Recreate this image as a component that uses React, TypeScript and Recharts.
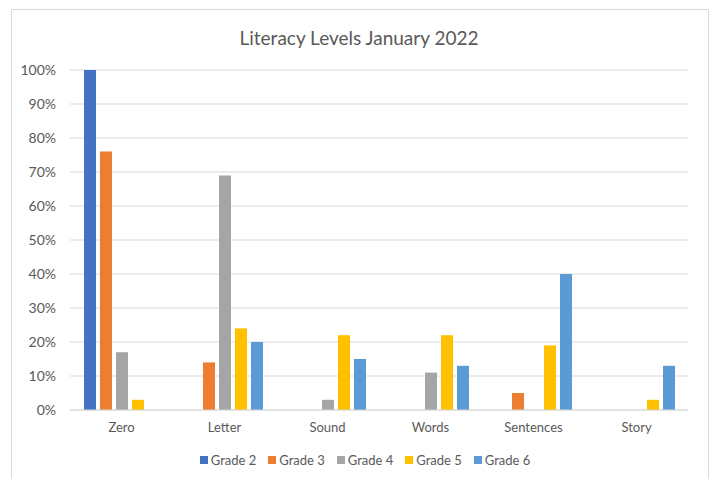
import React from "react";
import { BarChart, CartesianGrid, XAxis, YAxis, Bar } from "recharts";

const categories = ["Zero", "Letter", "Sound", "Words", "Sentences", "Story"];
const grade2 = [100, 0, 0, 0, 0, 0];
const grade3 = [76, 14, 0, 0, 5, 0];
const grade4 = [17, 69, 3, 11, 0, 0];
const grade5 = [3, 24, 22, 22, 19, 3];
const grade6 = [0, 20, 15, 13, 40, 13];
const yTicks = [0, 10, 20, 30, 40, 50, 60, 70, 80, 90, 100];

const SERIES = [
  { key: "Grade 2", values: grade2, color: "#4472C4" },
  { key: "Grade 3", values: grade3, color: "#ED7D31" },
  { key: "Grade 4", values: grade4, color: "#A5A5A5" },
  { key: "Grade 5", values: grade5, color: "#FFC000" },
  { key: "Grade 6", values: grade6, color: "#5B9BD5" },
];

const data = categories.map((name, i) => {
  const row: Record<string, string | number> = { name };
  SERIES.forEach((s) => (row[s.key] = s.values[i]));
  return row;
});

const FONT = "Lato, 'Open Sans', sans-serif";

const App: React.FC = () => {
  return (
    <div style={{ position: "relative", width: 714, height: 479, background: "#fff", overflow: "hidden", fontFamily: FONT }}>
      <style>{`body{margin:0}`}</style>
      <div style={{ position: "absolute", left: 11, top: 9, width: 696, height: 500, border: "1px solid #d9d9d9" }} />
      <div style={{ position: "absolute", top: 26, left: 0, width: 718, textAlign: "center", fontSize: 19, color: "#595959" }}>
        Literacy Levels January 2022
      </div>
      <BarChart
        width={714}
        height={479}
        data={data}
        margin={{ top: 70, right: 26, left: 10, bottom: 39 }}
        barSize={12}
        barGap={4}
      >
        <CartesianGrid vertical={false} stroke="#d9d9d9" />
        <XAxis
          dataKey="name"
          height={30}
          axisLine={{ stroke: "#d9d9d9" }}
          tickLine={false}
          tickMargin={7}
          tick={{ fill: "#595959", fontSize: 13, fontFamily: FONT }}
        />
        <YAxis
          width={60}
          domain={[0, 100]}
          ticks={yTicks}
          tickFormatter={(v: number) => `${v}%`}
          axisLine={false}
          tickLine={false}
          tickMargin={8}
          tick={{ fill: "#595959", fontSize: 14, fontFamily: FONT }}
        />
        {SERIES.map((s) => (
          <Bar key={s.key} dataKey={s.key} fill={s.color} isAnimationActive={false} />
        ))}
      </BarChart>
      <div
        style={{
          position: "absolute",
          top: 452,
          left: 0,
          width: 730,
          display: "flex",
          justifyContent: "center",
          gap: 12,
          fontSize: 13,
          color: "#595959",
        }}
      >
        {SERIES.map((s) => (
          <span key={s.key} style={{ display: "flex", alignItems: "center" }}>
            <span style={{ width: 8, height: 8, background: s.color, marginRight: 3, display: "inline-block" }} />
            {s.key}
          </span>
        ))}
      </div>
    </div>
  );
};

export default App;
